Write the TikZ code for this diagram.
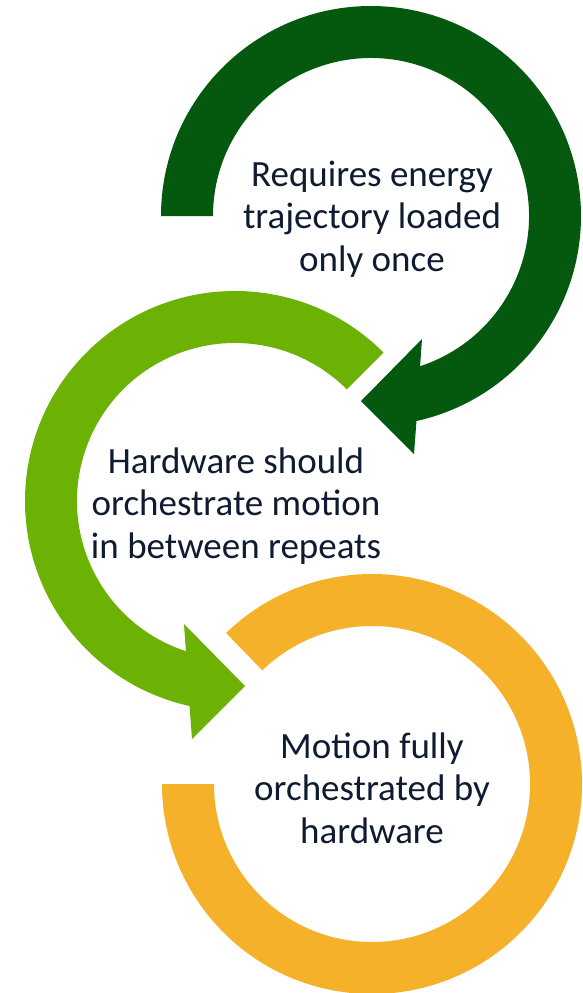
\documentclass[tikz,border=0pt]{standalone}
\usepackage{fontspec}
\setmainfont{Carlito}
\definecolor{cDark}{HTML}{04590F}
\definecolor{cLight}{HTML}{6BB205}
\definecolor{cOrange}{HTML}{F5B12A}
\definecolor{cText}{HTML}{0E1B30}
\begin{document}
\begin{tikzpicture}[x=1pt,y=1pt,
  lbl/.style={align=center,text=cText,inner sep=0pt,font=\fontsize{37}{42.5}\selectfont}]
\useasboundingbox (0,0) rectangle (583,-993);
\coordinate (cA) at (371,-216);
\coordinate (cB) at (235,-501);
\coordinate (cC) at (372,-784);
% top ring (dark green), clockwise arrow
\fill[cDark, shift={(cA)}] (180:210) arc[start angle=180,end angle=-77.5,radius=210]
  -- (43,-238) -- (-10,-185) -- (51,-123) -- (-71.9:158)
  arc[start angle=-71.9,end angle=180,radius=158] -- cycle;
% middle ring (light green), counter-clockwise arrow
\fill[cLight, shift={(cB)}] (45:210) arc[start angle=45,end angle=257.5,radius=210]
  -- (-43,-238) -- (10,-185) -- (-51,-123) -- (251.9:158)
  arc[start angle=251.9,end angle=45,radius=158] -- cycle;
% bottom ring (orange)
\fill[cOrange, shift={(cC)}] (134:210) arc[start angle=134,end angle=-180,radius=210]
  -- (180:158) arc[start angle=180,end angle=494,radius=158] -- cycle;
% labels
\node[lbl] (tA) at (372,-219) {Requires energy\\trajectory loaded\\only once};
\node[lbl] (tB) at (236,-506) {Hardware should\\orchestrate motion\\in between repeats};
\node[lbl] (tC) at (372,-788) {Motion fully\\orchestrated by\\hardware};
\end{tikzpicture}
\end{document}
